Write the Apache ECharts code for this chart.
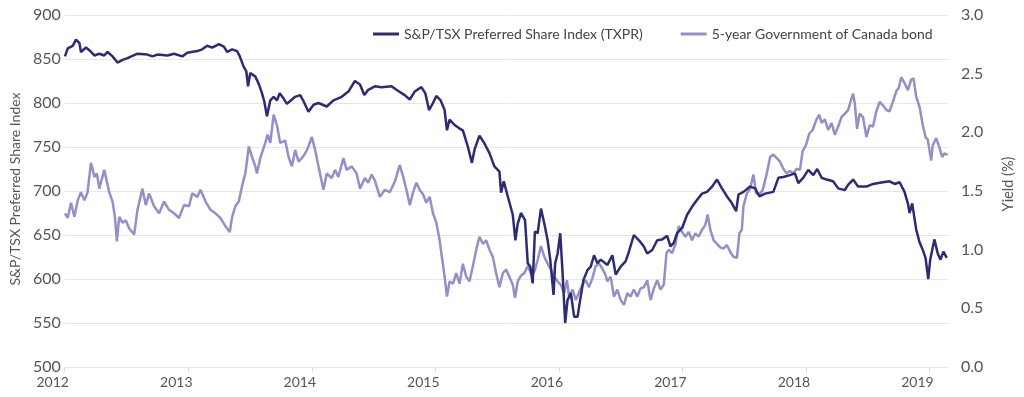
<!DOCTYPE html>
<html>
<head>
<meta charset="utf-8">
<script src="https://cdn.jsdelivr.net/npm/echarts@6/dist/echarts.min.js"></script>
<style>
html,body{margin:0;padding:0;background:#fff;}
#chart{width:1024px;height:397px;}
</style>
</head>
<body>
<div id="chart"></div>
<script>
// Decimal-year dates and values
const txprDates = [2012.002,2012.024,2012.065,2012.091,2012.119,2012.131,2012.172,2012.199,2012.240,2012.280,2012.320,2012.347,2012.387,2012.427,2012.468,2012.508,2012.589,2012.669,2012.710,2012.750,2012.831,2012.885,2012.952,2012.992,2013.073,2013.113,2013.153,2013.194,2013.248,2013.288,2013.315,2013.355,2013.395,2013.417,2013.449,2013.470,2013.484,2013.502,2013.543,2013.570,2013.597,2013.615,2013.637,2013.664,2013.691,2013.718,2013.740,2013.772,2013.798,2013.839,2013.865,2013.906,2013.933,2013.973,2014.014,2014.054,2014.121,2014.175,2014.242,2014.296,2014.349,2014.390,2014.425,2014.457,2014.510,2014.565,2014.645,2014.685,2014.752,2014.793,2014.833,2014.887,2014.919,2014.949,2014.981,2015.008,2015.043,2015.075,2015.094,2015.115,2015.156,2015.196,2015.223,2015.264,2015.296,2015.317,2015.357,2015.398,2015.438,2015.478,2015.519,2015.532,2015.554,2015.586,2015.627,2015.648,2015.667,2015.694,2015.726,2015.748,2015.769,2015.788,2015.806,2015.828,2015.855,2015.882,2015.909,2015.930,2015.957,2015.970,2015.990,2016.011,2016.030,2016.051,2016.070,2016.097,2016.124,2016.151,2016.172,2016.199,2016.231,2016.258,2016.285,2016.312,2016.339,2016.393,2016.433,2016.460,2016.500,2016.540,2016.567,2016.607,2016.648,2016.688,2016.715,2016.756,2016.796,2016.836,2016.877,2016.903,2016.930,2016.957,2016.998,2017.038,2017.078,2017.119,2017.159,2017.199,2017.240,2017.280,2017.320,2017.360,2017.401,2017.435,2017.454,2017.494,2017.548,2017.589,2017.623,2017.669,2017.736,2017.777,2017.817,2017.871,2017.911,2017.938,2017.978,2018.019,2018.059,2018.091,2018.127,2018.167,2018.220,2018.261,2018.315,2018.341,2018.382,2018.422,2018.490,2018.543,2018.623,2018.677,2018.718,2018.758,2018.798,2018.825,2018.839,2018.860,2018.893,2018.919,2018.946,2018.968,2018.990,2019.006,2019.022,2019.040,2019.067,2019.089,2019.113,2019.140];
const txprValues = [853,862,865,872,868,858,863,860,854,856,854,858,853,846,849,851,856,855,853,855,854,856,853,857,859,861,865,863,867,864,858,861,859,853,841,836,819,834,830,822,811,802,785,803,807,803,811,805,799,804,807,809,802,790,798,800,796,803,807,813,825,821,809,815,819,818,819,815,809,804,813,818,811,792,800,808,803,792,769,781,775,771,769,750,732,747,763,754,743,728,722,698,711,694,673,644,663,675,667,618,614,595,654,652,680,663,644,622,582,618,629,652,607,550,576,584,557,557,576,599,610,614,627,618,622,616,627,605,614,620,631,650,644,637,629,633,644,645,649,637,641,652,658,673,682,690,697,699,705,713,703,694,686,677,696,699,705,703,694,697,699,715,716,718,720,709,715,724,718,725,715,713,711,703,701,707,713,705,705,708,710,711,708,710,699,686,675,686,656,642,633,624,600,622,633,645,629,622,631,624];

const bondDates = [2012.002,2012.024,2012.051,2012.078,2012.105,2012.131,2012.159,2012.185,2012.212,2012.240,2012.260,2012.280,2012.320,2012.360,2012.387,2012.406,2012.422,2012.441,2012.468,2012.494,2012.522,2012.562,2012.589,2012.629,2012.656,2012.683,2012.723,2012.764,2012.804,2012.844,2012.885,2012.925,2012.965,2013.006,2013.032,2013.073,2013.099,2013.140,2013.180,2013.220,2013.260,2013.301,2013.336,2013.355,2013.381,2013.409,2013.435,2013.462,2013.490,2013.516,2013.543,2013.556,2013.583,2013.623,2013.643,2013.664,2013.691,2013.718,2013.744,2013.785,2013.812,2013.839,2013.865,2013.893,2013.919,2013.946,2013.973,2014.000,2014.027,2014.054,2014.094,2014.121,2014.161,2014.188,2014.215,2014.256,2014.282,2014.323,2014.363,2014.390,2014.430,2014.457,2014.484,2014.510,2014.551,2014.591,2014.631,2014.672,2014.712,2014.740,2014.766,2014.793,2014.820,2014.847,2014.873,2014.901,2014.927,2014.954,2014.981,2015.008,2015.035,2015.054,2015.075,2015.094,2015.115,2015.143,2015.169,2015.196,2015.223,2015.250,2015.277,2015.304,2015.331,2015.357,2015.385,2015.411,2015.438,2015.465,2015.492,2015.519,2015.546,2015.573,2015.599,2015.627,2015.645,2015.667,2015.694,2015.720,2015.748,2015.774,2015.801,2015.828,2015.855,2015.882,2015.909,2015.935,2015.962,2015.990,2016.016,2016.043,2016.065,2016.083,2016.111,2016.137,2016.164,2016.191,2016.218,2016.244,2016.272,2016.298,2016.325,2016.352,2016.379,2016.393,2016.419,2016.446,2016.473,2016.500,2016.527,2016.554,2016.581,2016.607,2016.635,2016.661,2016.688,2016.715,2016.742,2016.769,2016.796,2016.823,2016.849,2016.871,2016.890,2016.917,2016.944,2016.970,2016.998,2017.024,2017.051,2017.078,2017.105,2017.131,2017.159,2017.185,2017.204,2017.226,2017.253,2017.280,2017.306,2017.333,2017.360,2017.387,2017.414,2017.441,2017.462,2017.481,2017.494,2017.522,2017.548,2017.575,2017.597,2017.623,2017.651,2017.683,2017.710,2017.736,2017.764,2017.790,2017.817,2017.844,2017.871,2017.898,2017.925,2017.952,2017.973,2018.000,2018.027,2018.054,2018.086,2018.107,2018.127,2018.153,2018.180,2018.207,2018.234,2018.261,2018.288,2018.315,2018.341,2018.369,2018.382,2018.395,2018.414,2018.435,2018.462,2018.490,2018.516,2018.543,2018.570,2018.597,2018.623,2018.651,2018.677,2018.704,2018.731,2018.752,2018.772,2018.798,2018.825,2018.852,2018.871,2018.893,2018.919,2018.946,2018.968,2018.986,2019.014,2019.027,2019.054,2019.081,2019.102,2019.121,2019.148];
const bondValues = [1.31,1.27,1.40,1.28,1.42,1.49,1.42,1.49,1.74,1.62,1.65,1.52,1.68,1.49,1.41,1.28,1.07,1.28,1.23,1.25,1.18,1.13,1.34,1.52,1.38,1.48,1.37,1.31,1.41,1.34,1.31,1.27,1.38,1.37,1.48,1.45,1.51,1.41,1.34,1.31,1.27,1.20,1.15,1.28,1.37,1.41,1.54,1.65,1.88,1.79,1.71,1.65,1.78,1.91,1.98,1.91,2.15,2.06,1.91,1.93,1.79,1.71,1.85,1.75,1.78,1.82,1.88,1.96,1.85,1.71,1.51,1.65,1.61,1.68,1.62,1.78,1.68,1.71,1.65,1.52,1.61,1.57,1.64,1.59,1.45,1.51,1.49,1.58,1.72,1.62,1.51,1.38,1.49,1.57,1.51,1.47,1.40,1.45,1.31,1.23,1.08,0.93,0.77,0.60,0.73,0.71,0.80,0.71,0.88,0.77,0.73,0.86,1.00,1.11,1.05,1.08,1.00,0.94,0.80,0.68,0.80,0.83,0.77,0.70,0.59,0.73,0.78,0.80,0.86,0.80,0.81,0.91,1.03,0.94,0.88,0.83,0.77,0.73,0.70,0.63,0.74,0.60,0.66,0.57,0.64,0.70,0.74,0.68,0.76,0.86,0.88,0.84,0.78,0.73,0.77,0.60,0.66,0.57,0.53,0.63,0.60,0.66,0.60,0.67,0.68,0.74,0.57,0.67,0.74,0.66,0.70,0.97,1.00,0.97,1.05,1.20,1.15,1.11,1.15,1.08,1.14,1.11,1.17,1.21,1.30,1.17,1.08,1.05,1.02,1.01,1.04,0.98,0.94,0.93,1.14,1.17,1.37,1.48,1.52,1.64,1.48,1.47,1.51,1.65,1.79,1.81,1.78,1.75,1.69,1.65,1.67,1.65,1.69,1.68,1.84,1.89,1.99,2.02,2.11,2.15,2.08,2.11,2.02,2.08,1.98,2.05,2.13,2.16,2.19,2.29,2.33,2.25,2.03,2.16,2.13,1.96,2.06,2.05,2.18,2.26,2.23,2.19,2.18,2.26,2.35,2.38,2.47,2.42,2.36,2.45,2.46,2.30,2.22,2.06,1.96,1.94,1.76,1.89,1.95,1.87,1.79,1.82,1.81];

const leftTicks = {min: 500, max: 900, step: 50};
const rightTicks = {min: 0, max: 3, step: 0.5};
const xRange = {min: 2012, max: 2019.15, step: 1};
const seriesNames = ['S&P/TSX Preferred Share Index (TXPR)', '5-year Government of Canada bond'];
const axisNames = ['S&P/TSX Preferred Share Index', 'Yield (%)'];

const zip = (a, b) => a.map((d, i) => [d, b[i]]);
const FONT = 'Lato';
const chart = echarts.init(document.getElementById('chart'), null, {renderer: 'canvas'});
chart.setOption({
  animation: false,
  backgroundColor: '#ffffff',
  textStyle: {fontFamily: FONT},
  grid: {left: 62, right: 75, top: 15, bottom: 30, containLabel: false},
  legend: {
    left: 368, top: 22,
    icon: 'rect', itemWidth: 26, itemHeight: 3, itemGap: 38,
    textStyle: {fontFamily: FONT, fontSize: 14, color: '#444'},
    data: seriesNames
  },
  xAxis: {
    type: 'value', min: xRange.min, max: xRange.max, interval: xRange.step,
    axisLine: {show: true, lineStyle: {color: '#e6e6e6'}},
    axisTick: {show: true, length: 6, lineStyle: {color: '#e0e0e0'}},
    splitLine: {show: false},
    axisLabel: {fontFamily: FONT, fontSize: 14, color: '#555', margin: 8,
      padding: [0, 24, 0, 0],
      formatter: v => String(Math.round(v)),
      showMaxLabel: false}
  },
  yAxis: [{
    type: 'value', min: leftTicks.min, max: leftTicks.max, interval: leftTicks.step,
    position: 'left',
    name: axisNames[0], nameLocation: 'middle', nameGap: 42, nameRotate: 90,
    nameTextStyle: {fontFamily: FONT, fontSize: 14, color: '#555', padding: [0, 0, 0, 4]},
    axisLine: {show: false}, axisTick: {show: false},
    splitLine: {show: true, lineStyle: {color: '#e6e6e6', width: 1}},
    axisLabel: {fontFamily: FONT, fontSize: 16, color: '#555', margin: 4}
  }, {
    type: 'value', min: rightTicks.min, max: rightTicks.max, interval: rightTicks.step,
    position: 'right',
    name: axisNames[1], nameLocation: 'middle', nameGap: 53, nameRotate: 90,
    nameTextStyle: {fontFamily: FONT, fontSize: 14.5, color: '#555', padding: [0, 0, 0, 14]},
    axisLine: {show: false}, axisTick: {show: false},
    splitLine: {show: false},
    axisLabel: {fontFamily: FONT, fontSize: 16, color: '#555', margin: 13,
      formatter: v => v.toFixed(1)}
  }],
  series: [{
    name: seriesNames[0], type: 'line', yAxisIndex: 0, z: 3,
    data: zip(txprDates, txprValues),
    showSymbol: false, symbol: 'none',
    lineStyle: {color: '#2e2b75', width: 2.5},
    itemStyle: {color: '#2e2b75'}
  }, {
    name: seriesNames[1], type: 'line', yAxisIndex: 1, z: 2,
    data: zip(bondDates, bondValues),
    showSymbol: false, symbol: 'none',
    lineStyle: {color: '#938fc7', width: 2.5},
    itemStyle: {color: '#938fc7'}
  }]
});
</script>
</body>
</html>
